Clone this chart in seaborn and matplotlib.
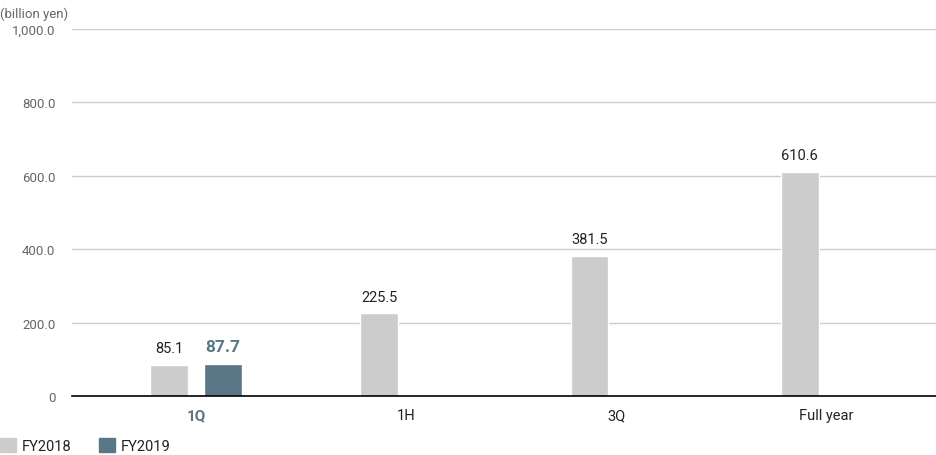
import numpy as np
import pandas as pd
import seaborn as sns
import matplotlib.pyplot as plt

categories = ["1Q", "1H", "3Q", "Full year"]
fy2018 = [85.1, 225.5, 381.5, 610.6]
fy2019 = [87.7, np.nan, np.nan, np.nan]
series = ["FY2018", "FY2019"]
y_ticks = [0, 200, 400, 600, 800, 1000]
y_tick_labels = ["0", "200.0", "400.0", "600.0", "800.0", "1,000.0"]

gray = "#cccccc"
teal = "#587685"
text_gray = "#666666"


def main():
    df = pd.DataFrame({
        "period": categories * 2,
        "year": [series[0]] * 4 + [series[1]] * 4,
        "value": fy2018 + fy2019,
    })

    sns.set_style("white")
    plt.rcParams["font.family"] = ["Roboto", "DejaVu Sans"]

    fig = plt.figure(figsize=(9.36, 4.56), dpi=100)
    ax = fig.add_axes([72 / 936, 1 - 397 / 456, 1 - 72 / 936, (397 - 30) / 456])

    sns.barplot(
        data=df, x="period", y="value", hue="year", order=categories,
        hue_order=series, palette={"FY2018": gray, "FY2019": teal},
        saturation=1, width=0.514, gap=0.3, ax=ax, legend=False, zorder=3,
    )

    # value labels above bars (seaborn skips NaN bars, so label the real patches)
    styles = [("#222222", "normal", 10.5), (teal, "bold", 12.5)]
    for container, (color, weight, size) in zip(ax.containers, styles):
        for bar in container:
            if bar is None or np.isnan(bar.get_height()):
                continue
            ax.annotate(f"{bar.get_height():.1f}",
                        (bar.get_x() + bar.get_width() / 2, bar.get_height()),
                        xytext=(0, 7), textcoords="offset points",
                        ha="center", va="bottom", color=color,
                        fontweight=weight, fontsize=size)

    ax.set_ylim(0, 1000)
    ax.set_xlim(-0.59, 3.52)
    ax.set_yticks(y_ticks)
    ax.set_yticklabels(y_tick_labels, color=text_gray, fontsize=9.5)
    ax.yaxis.grid(True, color="#cccccc", linewidth=1)
    ax.set_axisbelow(True)
    ax.tick_params(axis="both", length=0)
    ax.tick_params(axis="y", pad=12)
    ax.tick_params(axis="x", pad=9)
    ax.set_xlabel("")
    ax.set_ylabel("")
    for s in ["top", "right", "left"]:
        ax.spines[s].set_visible(False)
    ax.spines["bottom"].set_color("black")
    ax.spines["bottom"].set_linewidth(1.2)
    ax.spines["bottom"].set_zorder(5)

    for lbl in ax.get_xticklabels():
        if lbl.get_text() == "1Q":
            lbl.set_color(teal)
            lbl.set_fontweight("bold")
            lbl.set_fontsize(11)
        else:
            lbl.set_color("#222222")
            lbl.set_fontsize(10.5)

    fig.text(0.0, 1 - 14 / 456, "(billion yen)", fontsize=9.5, color=text_gray,
             va="center", ha="left")

    handles = [plt.Rectangle((0, 0), 1, 1, color=gray), plt.Rectangle((0, 0), 1, 1, color=teal)]
    fig.legend(handles, series, loc="lower left", bbox_to_anchor=(-0.014, -0.024),
               ncol=2, frameon=False, handlelength=1.1, handleheight=1.1,
               handletextpad=0.4, columnspacing=1.9, fontsize=10.5,
               labelcolor="#222222")

    fig.savefig("out.png", dpi=100)


main()
